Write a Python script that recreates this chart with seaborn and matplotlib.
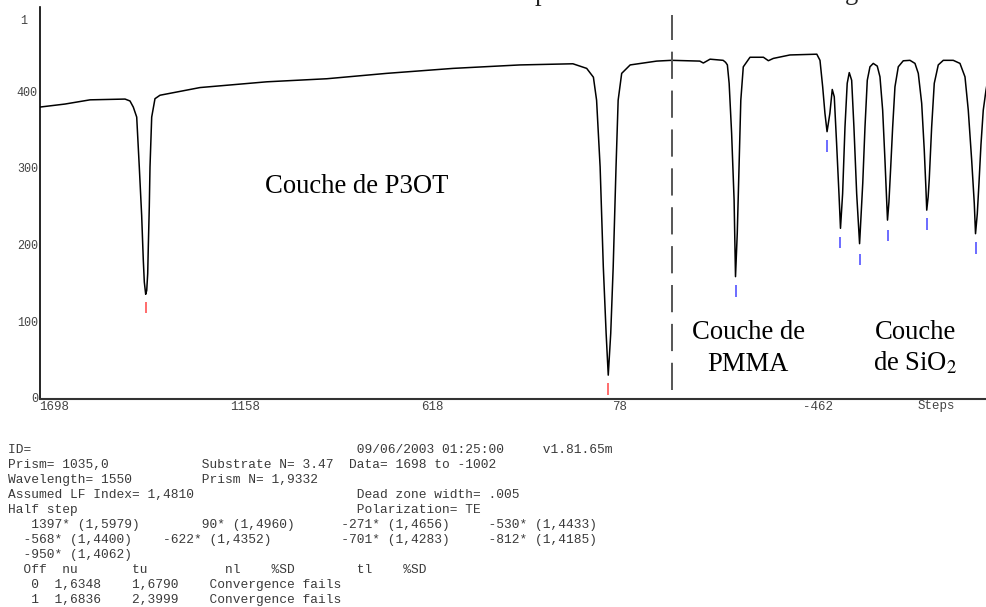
import matplotlib
matplotlib.use("Agg")
import matplotlib.pyplot as plt
import pandas as pd
import seaborn as sns

# ---------------- data ----------------
steps = [1698, 1626, 1555, 1456, 1442, 1432.6, 1423, 1415.7, 1409, 1404.4, 1401.5,
         1397.6, 1394.7, 1391.9, 1390.2, 1387.4, 1385.4, 1380.6, 1371.3, 1357.1,
         1244, 1055, 885, 716, 528, 339, 189, 150, 131, 122, 112, 103, 95, 89, 82,
         75, 67, 61, 51, 27, -48, -90, -170, -180, -199, -236, -243, -248, -253,
         -260, -267, -271, -276, -281, -286, -293, -312, -350, -364, -378, -425,
         -501, -510, -517.6, -524, -530, -538, -544.7, -550.4, -557, -563.7, -568,
         -574, -580.7, -587, -592.8, -599.6, -606, -613.8, -622, -627, -631,
         -637.3, -643.8, -651.4, -660.7, -672, -679.7, -687.3, -693.8, -697,
         -701, -705, -710, -715.6, -722.1, -731.5, -745.6, -764.6, -778.7, -788.1,
         -797.7, -805, -809.5, -812, -816, -819.1, -825.9, -833.3, -844.6, -858.8,
         -887, -906, -920.2, -929.5, -939.1, -946.5, -950, -955, -959.8, -965.4,
         -971.9, -979.6, -990, -1002]
intensity = [379, 383, 388.5, 389.5, 387, 379, 366, 301, 238, 180, 151,
             135, 140, 162, 197, 249, 301, 366, 390, 394.5,
             404.5, 412, 416, 423, 429.5, 434, 435.5, 429.5, 418, 388, 301, 171, 84, 29.6, 84,
             171, 301, 388, 423, 434, 439, 440, 439, 436.5, 441.5, 440, 437.4, 434, 410,
             345, 258, 158, 215, 301, 388, 431.5, 444, 444, 439.5, 442.5, 447,
             448, 440, 405.5, 371, 347, 371, 402, 392.5, 331.7, 266, 221,
             266, 353, 410, 424, 414, 353, 266, 201, 244.7, 280,
             353, 414, 431.6, 436, 432.5, 418.5, 375, 310, 275,
             231.7, 255, 300, 353, 405.5, 431.6, 439.4, 440, 436, 423,
             384, 323, 275, 244.7, 262, 285, 353, 410, 434, 440,
             440, 436, 418.5, 375, 310, 253.5, 214, 240, 280, 330,
             375, 401, 428, 438]

mode_steps = [1397, 90, -271, -530, -568, -622, -701, -812, -950]
mode_mark_top = [125, 19, 147, 336, 210, 188, 219, 234, 203]
mode_group = ["P3OT", "P3OT", "autre", "autre", "autre", "autre", "autre", "autre", "autre"]

x_ticks = [1698, 1158, 618, 78, -462]
x_tick_labels = ["1698", "1158", "618", "78", "-462"]
y_ticks = [0, 100, 200, 300, 400, 500]
y_tick_labels = ["0", "100", "200", "300", "400", ""]
top_label = "1"
x_axis_label = "Steps"
dead_zone_step = -90

p3ot_label = "Couche de P3OT"
pmma_label = ["Couche de", "PMMA"]
sio2_label = ["Couche", "de SiO$_2$"]
title_fragments = ["p", "g"]

info_rows = [
    [(0, "ID="), (45, "09/06/2003 01:25:00"), (69, "v1.81.65m")],
    [(0, "Prism= 1035,0"), (25, "Substrate N= 3.47"), (44, "Data= 1698 to -1002")],
    [(0, "Wavelength= 1550"), (25, "Prism N= 1,9332")],
    [(0, "Assumed LF Index= 1,4810"), (45, "Dead zone width= .005")],
    [(0, "Half step"), (45, "Polarization= TE")],
    [(3, "1397* (1,5979)"), (25, "90* (1,4960)"), (43, "-271* (1,4656)"), (62, "-530* (1,4433)")],
    [(2, "-568* (1,4400)"), (20, "-622* (1,4352)"), (43, "-701* (1,4283)"), (62, "-812* (1,4185)")],
    [(2, "-950* (1,4062)")],
    [(2, "Off"), (7, "nu"), (16, "tu"), (28, "nl"), (34, "%SD"), (45, "tl"), (51, "%SD")],
    [(3, "0"), (6, "1,6348"), (16, "1,6790"), (26, "Convergence fails")],
    [(3, "1"), (6, "1,6836"), (16, "2,3999"), (26, "Convergence fails")],
]

# ---------------- figure ----------------
sns.set_theme(style="white")
plt.rcParams["font.family"] = ["Liberation Serif", "DejaVu Serif"]
plt.rcParams["mathtext.fontset"] = "stix"

W, H = 986, 607
fig = plt.figure(figsize=(W / 100, H / 100), dpi=100)
fig.patch.set_facecolor("white")

def fx(px):
    return px / W

def fy(py):
    return 1 - py / H

ax = fig.add_axes([fx(39.5), (H - 399) / H, 954.4 / W, 391.6 / H])
ax.set_facecolor("white")

df = pd.DataFrame({"steps": steps, "intensity": intensity})
sns.lineplot(data=df, x="steps", y="intensity", ax=ax, color="black",
             linewidth=1.1, estimator=None, sort=False)

ax.set_xlim(1698, -1002)
ax.set_ylim(-1.5, 509)

# mode markers
marker_len = 15
mode_colors = {"P3OT": "#ff6b6b", "autre": "#6b6bff"}
for s, t, g in zip(mode_steps, mode_mark_top, mode_group):
    ax.vlines(s, t - marker_len, t, colors=mode_colors[g], linewidth=1.4)

# dead-zone dashed line
ax.vlines(dead_zone_step, 10, 499, colors="#555555", linewidth=1.4,
          linestyles=(0, (14, 6)))

# spines
for side in ["top", "right"]:
    ax.spines[side].set_visible(False)
ax.spines["left"].set_color("black")
ax.spines["left"].set_linewidth(1.2)
ax.spines["bottom"].set_color("#333333")
ax.spines["bottom"].set_linewidth(1.5)

mono = "Liberation Mono"
ax.set_xticks(x_ticks)
ax.set_xticklabels(x_tick_labels, fontfamily=mono, fontsize=9, color="#444444")
for lab in ax.get_xticklabels():
    lab.set_ha("left")
ax.set_yticks(y_ticks)
ax.set_yticklabels(y_tick_labels, fontfamily=mono, fontsize=8.5, color="#444444")
ax.tick_params(axis="x", direction="out", length=3.5, width=1, color="#444444", pad=-2)
ax.tick_params(axis="y", direction="out", length=3, width=1, color="#444444", pad=-1.8)
ax.set_xlabel("")
ax.set_ylabel("")
ax.grid(False)

fig.text(fx(24), fy(21), top_label, fontfamily=mono, fontsize=8.5, color="#444444",
         ha="center", va="center")
fig.text(fx(918), fy(406), x_axis_label, fontfamily=mono, fontsize=9, color="#444444",
         ha="left", va="center")

# layer annotations
fs = 19.2
ax.text(801, 267, p3ot_label, fontsize=fs, ha="center", va="baseline", color="black")
ax.text(-307, 76.5, pmma_label[0], fontsize=fs, ha="center", va="baseline", color="black")
ax.text(-307, 35.2, pmma_label[1], fontsize=fs, ha="center", va="baseline", color="black")
ax.text(-779, 76.5, sio2_label[0], fontsize=fs, ha="center", va="baseline", color="black")
ax.text(-779, 35.2, sio2_label[1], fontsize=fs, ha="center", va="baseline", color="black")

# cut-off caption fragments at the very top (cut in the reference too)
fig.text(fx(541), fy(0.5), title_fragments[0], fontsize=fs, ha="center", va="baseline")
fig.text(fx(851), fy(-1.0), title_fragments[1], fontsize=fs, ha="center", va="baseline")

# instrument text block
for i, row in enumerate(info_rows):
    line = ""
    for col, s in row:
        line = line.ljust(col) + s
    fig.text(fx(8), fy(450 + 15 * i), line, fontfamily=mono, fontsize=9.3,
             color="#3a3a3a", ha="left", va="center")

fig.savefig("out.png", dpi=100, facecolor="white")
